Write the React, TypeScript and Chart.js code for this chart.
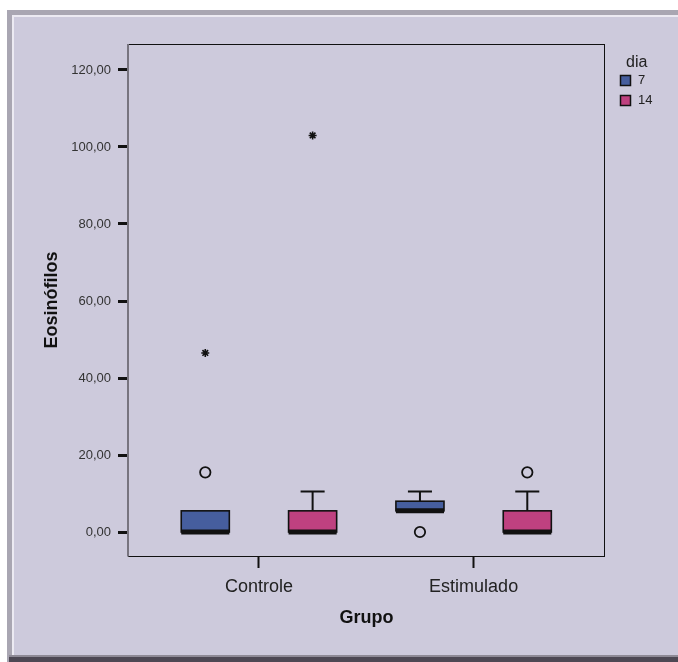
import React, { useEffect, useRef } from 'react';
import { Chart, registerables } from 'chart.js';

Chart.register(...registerables);

// ---- data ----
const groups = ['Controle', 'Estimulado'];
const seriesNames = ['7', '14'];
const seriesColors = ['#465E9E', '#BF4180'];

// day 7 (per group)
const q1Day7 = [0, 5.5];
const medianDay7 = [0, 5.5];
const q3Day7 = [5.5, 8];
const whiskerLowDay7 = [0, 5.5];
const whiskerHighDay7 = [5.5, 10.5];
const outliersDay7 = [[15.5], [0]];
const extremesDay7 = [[46.5], []];

// day 14 (per group)
const q1Day14 = [0, 0];
const medianDay14 = [0, 0];
const q3Day14 = [5.5, 5.5];
const whiskerLowDay14 = [0, 0];
const whiskerHighDay14 = [10.5, 10.5];
const outliersDay14 = [[], [15.5]];
const extremesDay14 = [[103], []];

const yTickValues = [0, 20, 40, 60, 80, 100, 120];
const yTickLabels = ['0,00', '20,00', '40,00', '60,00', '80,00', '100,00', '120,00'];

const yTitle = 'Eosinófilos';
const xTitle = 'Grupo';
const legendTitle = 'dia';

// ---- layout constants ----
const W = 678;
const H = 662;
const FONT = '"Liberation Sans", Arial, Helvetica, sans-serif';
const SERIES_OFFSET = [-0.25, 0.25];
const BOX_WIDTH = 0.224;

const stats = [
  { q1: q1Day7, med: medianDay7, q3: q3Day7, lo: whiskerLowDay7, hi: whiskerHighDay7, out: outliersDay7, ext: extremesDay7 },
  { q1: q1Day14, med: medianDay14, q3: q3Day14, lo: whiskerLowDay14, hi: whiskerHighDay14, out: outliersDay14, ext: extremesDay14 },
];

const framePlugin = {
  id: 'frame',
  beforeDraw(chart: any) {
    const ctx = chart.ctx;
    ctx.save();
    ctx.fillStyle = '#ffffff';
    ctx.fillRect(0, 0, W, H);
    ctx.fillStyle = '#A9A6B2';
    ctx.fillRect(7, 10, W - 7, H - 10);
    ctx.fillStyle = '#8E8A96';
    ctx.fillRect(9, 655, W - 9, 2);
    ctx.fillStyle = '#4D4854';
    ctx.fillRect(9, 657, W - 9, 5);
    ctx.fillStyle = '#ECEAF2';
    ctx.fillRect(12, 15, W - 12, 640);
    ctx.fillStyle = '#CDCADC';
    ctx.fillRect(14, 17, W - 14, 638);
    ctx.restore();
  },
};

const boxPlugin = {
  id: 'boxes',
  beforeDatasetsDraw(chart: any) {
    const ctx = chart.ctx;
    const xs = chart.scales.x;
    const ys = chart.scales.y;
    const half = (xs.getPixelForValue(BOX_WIDTH) - xs.getPixelForValue(0)) / 2;
    ctx.save();
    stats.forEach((s, si) => {
      groups.forEach((_, gi) => {
        const xc = xs.getPixelForValue(gi + SERIES_OFFSET[si]);
        const yq1 = ys.getPixelForValue(s.q1[gi]);
        const yq3 = ys.getPixelForValue(s.q3[gi]);
        const ymed = ys.getPixelForValue(s.med[gi]);
        const yhi = ys.getPixelForValue(s.hi[gi]);
        const ylo = ys.getPixelForValue(s.lo[gi]);
        ctx.strokeStyle = '#111';
        ctx.lineWidth = 2;
        const capHalf = half / 2;
        if (s.hi[gi] > s.q3[gi]) {
          ctx.beginPath();
          ctx.moveTo(xc, yq3);
          ctx.lineTo(xc, yhi);
          ctx.moveTo(xc - capHalf, yhi);
          ctx.lineTo(xc + capHalf, yhi);
          ctx.stroke();
        }
        if (s.lo[gi] < s.q1[gi]) {
          ctx.beginPath();
          ctx.moveTo(xc, yq1);
          ctx.lineTo(xc, ylo);
          ctx.moveTo(xc - capHalf, ylo);
          ctx.lineTo(xc + capHalf, ylo);
          ctx.stroke();
        }
        ctx.fillStyle = seriesColors[si];
        ctx.fillRect(xc - half, yq3, half * 2, yq1 - yq3);
        ctx.lineWidth = 1.6;
        ctx.strokeRect(xc - half, yq3, half * 2, yq1 - yq3);
        ctx.lineWidth = 5;
        ctx.beginPath();
        ctx.moveTo(xc - half, ymed);
        ctx.lineTo(xc + half, ymed);
        ctx.stroke();
      });
    });
    ctx.restore();
  },
  afterDraw(chart: any) {
    const ctx = chart.ctx;
    const a = chart.chartArea;
    ctx.save();
    // plot frame
    ctx.strokeStyle = '#111';
    ctx.lineWidth = 1;
    ctx.strokeRect(a.left + 0.5, a.top + 0.5, a.right - a.left - 1, a.bottom - a.top);
    ctx.strokeStyle = '#77747F';
    ctx.lineWidth = 2;
    ctx.beginPath();
    ctx.moveTo(a.left, a.top);
    ctx.lineTo(a.left, a.bottom + 0.5);
    ctx.stroke();
    // legend
    ctx.fillStyle = '#222';
    ctx.textBaseline = 'middle';
    ctx.textAlign = 'left';
    ctx.font = `16px ${FONT}`;
    ctx.fillText(legendTitle, 626, 63);
    ctx.font = `13px ${FONT}`;
    seriesNames.forEach((name, i) => {
      const y = 75 + i * 20;
      ctx.fillStyle = seriesColors[i];
      ctx.fillRect(620, y, 11, 11);
      ctx.strokeStyle = '#111';
      ctx.lineWidth = 1.5;
      ctx.strokeRect(620.5, y + 0.5, 10, 10);
      ctx.fillStyle = '#222';
      ctx.fillText(name, 638, y + 5.5);
    });
    ctx.restore();
  },
};

export default function App() {
  const ref = useRef<HTMLCanvasElement>(null);
  useEffect(() => {
    if (!ref.current) return;
    const datasets: any[] = [];
    stats.forEach((s, si) => {
      const circ: any[] = [];
      const star: any[] = [];
      groups.forEach((_, gi) => {
        s.out[gi].forEach((v) => circ.push({ x: gi + SERIES_OFFSET[si], y: v }));
        s.ext[gi].forEach((v) => star.push({ x: gi + SERIES_OFFSET[si], y: v }));
      });
      datasets.push({
        label: seriesNames[si] + ' outliers',
        data: circ,
        pointStyle: 'circle',
        pointRadius: 5.2,
        borderWidth: 1.8,
        borderColor: '#111',
        backgroundColor: 'rgba(0,0,0,0)',
      });
      datasets.push({
        label: seriesNames[si] + ' extremes',
        data: star,
        pointStyle: 'star',
        pointRadius: 4,
        borderWidth: 1.6,
        borderColor: '#111',
        backgroundColor: '#111',
      });
    });
    const chart = new Chart(ref.current, {
      type: 'scatter',
      data: { datasets },
      options: {
        animation: false,
        responsive: false,
        layout: { padding: { top: 44, right: 73, left: 0, bottom: 0 } },
        plugins: { legend: { display: false }, tooltip: { enabled: false } },
        scales: {
          x: {
            type: 'linear',
            min: -0.61,
            max: 1.612,
            border: { display: false },
            grid: { display: true, drawOnChartArea: false, drawTicks: true, tickLength: 12, tickWidth: 2, tickColor: '#111' },
            afterBuildTicks: (scale: any) => {
              scale.ticks = groups.map((_, i) => ({ value: i }));
            },
            afterFit: (scale: any) => {
              scale.height = 106;
            },
            ticks: {
              padding: 8,
              color: '#222',
              font: { family: FONT, size: 18 },
              callback: (v: any) => groups[Math.round(v)] ?? '',
            },
            title: {
              display: true,
              text: xTitle,
              color: '#111',
              font: { family: FONT, size: 18, weight: 'bold' },
              padding: { top: 0, bottom: 33 },
            },
          },
          y: {
            type: 'linear',
            min: -6.23,
            max: 126.75,
            border: { display: false },
            grid: { display: true, drawOnChartArea: false, drawTicks: true, tickLength: 10, tickWidth: 3, tickColor: '#111' },
            afterBuildTicks: (scale: any) => {
              scale.ticks = yTickValues.map((v) => ({ value: v }));
            },
            afterFit: (scale: any) => {
              scale.width = 128;
            },
            ticks: {
              padding: 7,
              color: '#333',
              font: { family: FONT, size: 13 },
              callback: (v: any) => {
                const i = yTickValues.indexOf(v);
                return i >= 0 ? yTickLabels[i] : '';
              },
            },
            title: {
              display: true,
              text: yTitle,
              color: '#111',
              font: { family: FONT, size: 18, weight: 'bold' },
              padding: { top: 41, bottom: 0 },
            },
          },
        },
      },
      plugins: [framePlugin, boxPlugin],
    } as any);
    return () => chart.destroy();
  }, []);
  return (
    <div style={{ position: 'absolute', left: 0, top: 0, width: W, height: H }}>
      <canvas ref={ref} width={W} height={H} style={{ display: 'block', width: W, height: H }} />
    </div>
  );
}
